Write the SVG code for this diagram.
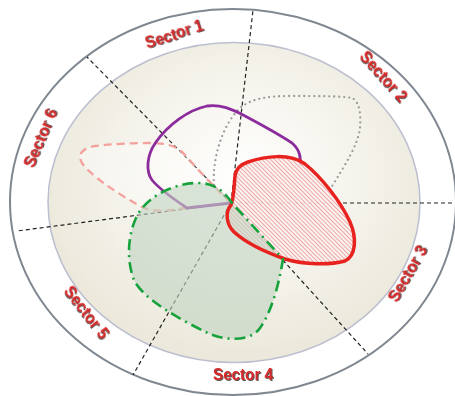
<svg xmlns="http://www.w3.org/2000/svg" width="455" height="396" viewBox="0 0 455 396">
<defs>
<radialGradient id="inner" cx="0.52" cy="0.42" r="0.55">
<stop offset="0" stop-color="#ffffff"/>
<stop offset="0.35" stop-color="#f9f8f3"/>
<stop offset="1" stop-color="#ece9dc"/>
</radialGradient>
<pattern id="hatch" width="3" height="3" patternUnits="userSpaceOnUse" patternTransform="rotate(-45)">
<rect width="3" height="3" fill="#fbf3f1" fill-opacity="0.9"/>
<line x1="0" y1="0" x2="0" y2="3" stroke="#e46a6a" stroke-width="1.1"/>
</pattern>
<filter id="shadow" x="-20%" y="-40%" width="140%" height="180%">
<feDropShadow dx="1" dy="1" stdDeviation="0.6" flood-color="#333" flood-opacity="0.85"/>
</filter>
<path id="green-shape" d="M232,203 C224,191 214,183 198,183 C172,183 145,198 136,218 C127,238 127,262 134,280 C142,298 180,320 210,334 C230,342 252,340 260,328 C270,314 278,290 283,259 Z"/>
<path id="red-shape" d="M235,176 Q236,166 248,162 C265,156 290,153 305,164 C320,176 340,200 350,222 C357,238 356,256 345,261 C330,265 305,265 285,259 C265,252 245,242 234,232 C226,224 225,212 231,205 C234,198 234,186 235,176 Z"/>
</defs>
<style>
.ring{fill:#ffffff;stroke:#7f8790;stroke-width:2}
.inner{fill:url(#inner);stroke:#bcbfcf;stroke-width:1.5}
.sep{stroke:#222;stroke-width:1.2;stroke-dasharray:4 3;fill:none}
.label{font-family:"Liberation Sans",Arial,sans-serif;font-weight:bold;font-size:17px;fill:#d62a2a;text-anchor:middle;dominant-baseline:central;filter:url(#shadow)}
.pink{fill:#ffffff;fill-opacity:0.35;stroke:#f4a19d;stroke-width:2.3;stroke-dasharray:8 5}
.dotted{fill:none;stroke:#9a9a9a;stroke-width:2.3;stroke-dasharray:0 5;stroke-linecap:round}
.purple{fill:none;stroke:#8c2c9c;stroke-width:2.8;stroke-linejoin:round}
.green-area{fill:#c2d3c1;fill-opacity:0.62;stroke:none}
.green-line{fill:none;stroke:#17a33c;stroke-width:2.6;stroke-dasharray:11 5 2 5}
.red-area{fill:url(#hatch);stroke:none}
.red-line{fill:none;stroke:#e8221e;stroke-width:3.5;stroke-linejoin:round}
</style>

<g id="background">
<ellipse class="ring" cx="233" cy="202" rx="223" ry="193"/>
<ellipse class="inner" cx="234" cy="202.5" rx="186" ry="160"/>
</g>

<g id="connectors">
<line class="sep" x1="231" y1="203" x2="253" y2="10"/>
<line class="sep" x1="231" y1="203" x2="456" y2="203"/>
<line class="sep" x1="231" y1="203" x2="368" y2="354"/>
<line class="sep" x1="231" y1="203" x2="133" y2="375"/>
<line class="sep" x1="231" y1="203" x2="17" y2="231"/>
<line class="sep" x1="231" y1="203" x2="87" y2="57"/>
</g>

<g id="labels">
<text class="label" transform="translate(174,34) rotate(-17)" textLength="60" lengthAdjust="spacingAndGlyphs">Sector 1</text>
<text class="label" transform="translate(384,76) rotate(48)" textLength="62" lengthAdjust="spacingAndGlyphs">Sector 2</text>
<text class="label" transform="translate(408,274) rotate(-60)" textLength="62" lengthAdjust="spacingAndGlyphs">Sector 3</text>
<text class="label" transform="translate(243,374)" textLength="60" lengthAdjust="spacingAndGlyphs">Sector 4</text>
<text class="label" transform="translate(87,312) rotate(52)" textLength="62" lengthAdjust="spacingAndGlyphs">Sector 5</text>
<text class="label" transform="translate(40,138) rotate(-67)" textLength="62" lengthAdjust="spacingAndGlyphs">Sector 6</text>
</g>

<g id="series-pink">
<path class="pink" d="M231,203 C220,193 198,170 185,155 C178,147 170,144 155,143 C135,143 110,144 95,146 C82,148 77,155 82,163 C90,175 115,192 140,206 C152,213 168,211 185,208 L231,203"/>
</g>

<g id="series-gray">
<path class="dotted" d="M214,185 C212,160 222,125 240,108 C252,98 270,96 290,96 C315,96 340,96 352,98 C360,102 361,115 360,128 C358,145 345,165 331,188"/>
</g>

<g id="series-purple">
<path class="purple" d="M300,166 C301,157 300,150 292,143 C280,135 260,124 245,116 C232,109 220,104 207,106 C188,110 168,125 156,142 C146,156 146,172 152,180 C160,190 175,200 187,208 L231,203"/>
</g>

<g id="series-red-area">
<use href="#red-shape" class="red-area"/>
</g>

<g id="series-green-area">
<use href="#green-shape" class="green-area"/>
</g>

<g id="series-red">
<use href="#red-shape" class="red-line"/>
</g>

<g id="series-green">
<use href="#green-shape" class="green-line"/>
</g>
</svg>
